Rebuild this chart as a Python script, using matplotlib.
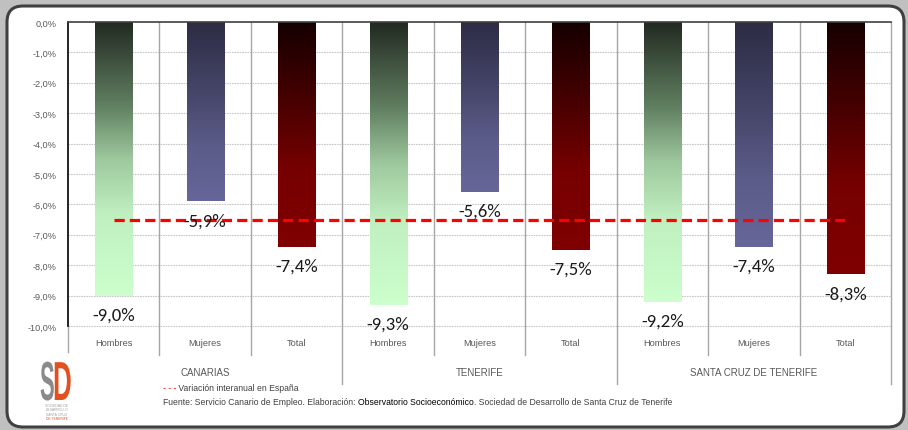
import matplotlib
matplotlib.use("Agg")
import matplotlib.pyplot as plt
import numpy as np
from matplotlib.colors import LinearSegmentedColormap
from matplotlib.patches import FancyBboxPatch, PathPatch
from matplotlib.textpath import TextPath
from matplotlib.font_manager import FontProperties
from matplotlib.transforms import Affine2D, blended_transform_factory

# ---- data ----
groups = ["CANARIAS", "TENERIFE", "SANTA CRUZ DE TENERIFE"]
subcats = ["Hombres", "Mujeres", "Total"]
values = [-9.0, -5.9, -7.4, -9.3, -5.6, -7.5, -9.2, -7.4, -8.3]
value_labels = ["-9,0%", "-5,9%", "-7,4%", "-9,3%", "-5,6%", "-7,5%", "-9,2%", "-7,4%", "-8,3%"]
spain_value = -6.5
yticks = [0, -1, -2, -3, -4, -5, -6, -7, -8, -9, -10]
ytick_labels = ["0,0%", "-1,0%", "-2,0%", "-3,0%", "-4,0%", "-5,0%", "-6,0%", "-7,0%", "-8,0%", "-9,0%", "-10,0%"]

narrow = ["Liberation Sans Narrow", "Liberation Sans", "DejaVu Sans"]
calib = ["Carlito", "Open Sans", "DejaVu Sans"]

grad = {
    "Hombres": [(0, "#222a22"), (0.3, "#607e60"), (0.5, "#9ec89e"),
                (0.7, "#c0efc0"), (1, "#ccffcc")],
    "Mujeres": [(0, "#2c2c44"), (0.4, "#46466a"), (0.7, "#5c5c8a"), (1, "#666699")],
    "Total": [(0, "#160000"), (0.35, "#480000"), (0.65, "#760000"), (1, "#800000")],
}

fig = plt.figure(figsize=(9.08, 4.31), dpi=100)
fig.patch.set_facecolor("#c0c0c0")
frame = FancyBboxPatch((0.07, 0.03), 8.97, 4.21,
                       boxstyle="round,pad=0,rounding_size=0.16",
                       transform=fig.dpi_scale_trans, facecolor="white",
                       edgecolor="#404040", linewidth=2.2, zorder=-5)
fig.patches.append(frame)

ax = fig.add_axes([68/908, 1-327/431, (891-68)/908, (327-23)/431])
ax.set_zorder(1)
ax.set_facecolor("none")
ax.set_xlim(-0.5, 8.5)
ax.set_ylim(-10, 0)

n = len(values)
w = 0.405

# horizontal grid
for yv in yticks[1:]:
    ax.axhline(yv, color="#c8c8c8", lw=0.8, ls=(0, (1.5, 0.8)), zorder=1,
               clip_on=False)

# vertical lines (inside and below the axis)
bt = blended_transform_factory(ax.transData, ax.transAxes)
for i in range(n):
    xb = i + 0.5
    low = -0.191 if (i + 1) % 3 == 0 else -0.095
    ax.plot([xb, xb], [low, 1], color="#a6a6a6", lw=1.0, transform=bt,
            clip_on=False, zorder=1)
ax.plot([-0.5, -0.5], [-0.086, 0], color="#a6a6a6", lw=1.0, transform=bt,
        clip_on=False, zorder=1)

# gradient bars
for i, v in enumerate(values):
    cmap = LinearSegmentedColormap.from_list("g", grad[subcats[i % 3]])
    ax.imshow(np.linspace(0, 1, 256).reshape(-1, 1), cmap=cmap, aspect="auto",
              extent=[i - w/2, i + w/2, v, 0], origin="upper", zorder=2,
              interpolation="bilinear")
ax.set_xlim(-0.5, 8.5)
ax.set_ylim(-10, 0)

# Spain reference line
ax.plot([0, 8], [spain_value, spain_value], color="#ff0000", lw=2.3,
        dashes=(3.2, 1.6), zorder=3, solid_capstyle="butt")

# value labels
for i, (v, lab) in enumerate(zip(values, value_labels)):
    ax.text(i, v - 0.62, lab, ha="center", va="center", fontsize=13.5,
            family=calib, color="#1a1a1a", zorder=5)

# spines
for s in ["right", "bottom"]:
    ax.spines[s].set_visible(False)
ax.spines["left"].set_color("#000000")
ax.spines["left"].set_linewidth(1.2)
ax.spines["top"].set_color("#404040")
ax.spines["top"].set_linewidth(1.2)
ax.spines["left"].set_zorder(6)
ax.spines["top"].set_zorder(6)

ax.set_yticks(yticks)
ax.set_yticklabels(ytick_labels, family=narrow, fontsize=6.6, color="#595959")
ax.tick_params(axis="y", length=0, pad=8)
ax.set_xticks([])

# category labels
for i in range(n):
    ax.text(i, -0.053, subcats[i % 3], transform=bt, ha="center", va="center",
            family=narrow, fontsize=6.7, color="#595959")
for g, name in enumerate(groups):
    ax.text(3*g + 1, -0.151, name, transform=bt, ha="center", va="center",
            family=narrow, fontsize=7.0, color="#595959")

# footer text
fs = 6.2
t1 = fig.text(163/908, 1-389/431, "- - -", color="#ff0000", family=narrow,
              fontsize=fs, va="center", ha="left")
ax.annotate(" Variación interanual en España", xy=(1, 0.5), xycoords=t1,
            va="center", ha="left", family=narrow, fontsize=fs, color="#404040",
            annotation_clip=False)
f1 = fig.text(163/908, 1-403/431, "Fuente: Servicio Canario de Empleo. Elaboración: ",
              color="#404040", family=narrow, fontsize=fs, va="center", ha="left")
f2 = ax.annotate("Observatorio Socioeconómico", xy=(1, 0.5), xycoords=f1,
                 va="center", ha="left", family=narrow, fontsize=fs,
                 color="#000000", annotation_clip=False)
ax.annotate(". Sociedad de Desarrollo de Santa Cruz de Tenerife", xy=(1, 0.5),
            xycoords=f2, va="center", ha="left", family=narrow, fontsize=fs,
            color="#404040", annotation_clip=False)

# logo
fp = FontProperties(family=["Liberation Sans", "DejaVu Sans"], weight="bold")
def letter(ch, x_in, y_in, sx, sy, color):
    tp = TextPath((0, 0), ch, size=1, prop=fp)
    tr = Affine2D().scale(sx, sy).translate(x_in, y_in) + fig.dpi_scale_trans
    fig.patches.append(PathPatch(tp, transform=tr, facecolor=color,
                                 edgecolor="none", zorder=3))
letter("S", 0.40, 0.30, 0.22, 0.55, "#8a8a8a")
letter("D", 0.53, 0.30, 0.26, 0.55, "#e2501f")
for k, (txt, col) in enumerate([("SOCIEDAD DE", "#a0a0a0"), ("DESARROLLO", "#a0a0a0"),
                                ("SANTA CRUZ", "#a0a0a0"), ("DE TENERIFE", "#e2501f")]):
    fig.text(0.57/9.08, (0.25 - k*0.045)/4.31, txt, fontsize=2.4, color=col,
             family=narrow, ha="center", va="center")

fig.savefig("out.png", dpi=100, facecolor=fig.get_facecolor())
